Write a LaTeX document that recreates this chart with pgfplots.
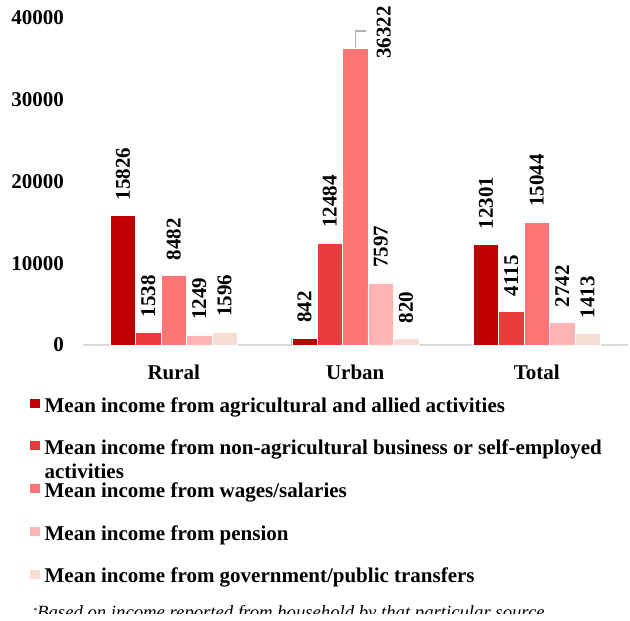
\documentclass[border=0pt]{standalone}
\usepackage{pgfplots}
\pgfplotsset{compat=1.18}
\usepackage{fontspec}
\setmainfont{Liberation Serif}
\definecolor{cA}{HTML}{C00000}
\definecolor{cB}{HTML}{E93B3B}
\definecolor{cC}{HTML}{FF7575}
\definecolor{cD}{HTML}{FFB3B3}
\definecolor{cE}{HTML}{F8DDD3}
\definecolor{axgray}{HTML}{D9D9D9}
\newcommand{\LE}[1]{\vrule height 15bp depth 5bp width 0pt #1}
\newcommand{\bigf}{\fontsize{21bp}{24bp}\selectfont\bfseries}
\begin{document}
\begin{tikzpicture}
\useasboundingbox (0,0) rectangle (630bp,-621bp);
\begin{axis}[
  at={(83bp,-345bp)}, anchor=south west,
  scale only axis, width=544.5bp, height=327bp,
  xmin=-0.5, xmax=2.5, ymin=0, ymax=40000,
  ybar=0pt, bar width=0.14,
  xtick={0,1,2}, xticklabels={Rural,Urban,Total},
  ytick={0,10000,20000,30000,40000},
  scaled y ticks=false,
  /pgf/number format/1000 sep={},
  /pgf/number format/assume math mode=true,
  axis x line*=bottom, axis y line*=left,
  x axis line style={-, draw=axgray, line width=1.5bp},
  y axis line style={draw=none},
  tick style={draw=none},
  tick label style={font=\bigf},
  yticklabel style={inner sep=0pt, xshift=-19bp},
  xticklabel style={inner sep=0pt, yshift=-15bp},
  clip=false,
  nodes near coords,
  every node near coord/.append style={font=\bigf, text=black, rotate=90, anchor=west, inner sep=0pt, inner xsep=15bp},
  legend style={at={(axis description cs:-0.09917,-0.15902)}, anchor=north west,
    draw=none, fill=none, inner sep=0pt, row sep=26.2bp, column sep=4bp,
    font=\bigf, nodes={inner sep=0pt}},
  legend cell align=left,
  legend image code/.code={\fill[#1] (0bp,-2.5bp) rectangle (11bp,7.5bp);},
]
\addplot[fill=cA, draw=white, line width=0.4bp] coordinates {(0,15826) (1,842) (2,12301)};
\addplot[fill=cB, draw=white, line width=0.4bp] coordinates {(0,1538) (1,12484) (2,4115)};
\addplot[fill=cC, draw=white, line width=0.4bp,
  visualization depends on={\coordindex \as \ci},
  every node near coord/.append style={xshift={(\ci==1)*(-26bp)}, yshift={(\ci==1)*(-28.5bp)}}]
  coordinates {(0,8482) (1,36322) (2,15044)};
\addplot[fill=cD, draw=white, line width=0.4bp] coordinates {(0,1249) (1,7597) (2,2742)};
\addplot[fill=cE, draw=white, line width=0.4bp] coordinates {(0,1596) (1,820) (2,1413)};
\legend{\LE{Mean income from agricultural and allied activities},
  \LE{\smash{\vtop{\hbox{Mean income from non-agricultural business or self-employed}\hbox{activities}}}},
  \LE{Mean income from wages/salaries},
  \LE{Mean income from pension},
  \LE{Mean income from government/public transfers}}
\draw[gray!60, line width=1.2bp] (axis cs:1,36322) -- ([yshift=17bp]axis cs:1,36322) -- ([xshift=11bp,yshift=17bp]axis cs:1,36322);
\end{axis}
\node[anchor=base west, inner sep=0pt, font=\fontsize{18.7bp}{22bp}\selectfont\itshape] at (33bp,-618bp) {\raisebox{5bp}{\fontsize{8bp}{8bp}\selectfont*}Based on income reported from household by that particular source};
\fill[white] (-1bp,-614bp) rectangle (631bp,-622bp);
\end{tikzpicture}
\end{document}
